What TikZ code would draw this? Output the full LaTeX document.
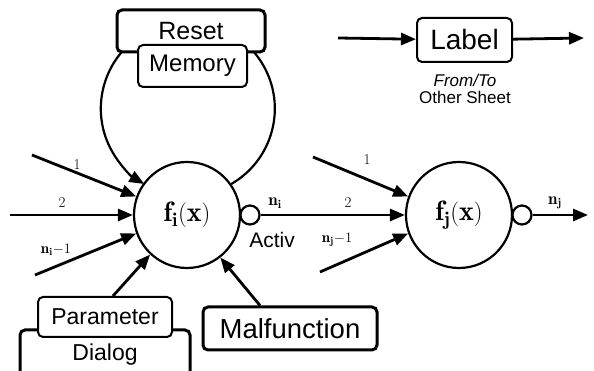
\documentclass[tikz,border=0pt]{standalone}
\usepackage{amsmath, amssymb}
\usepackage{fontspec}
\setsansfont{Liberation Sans}
\usetikzlibrary{arrows.meta}
\usetikzlibrary{shapes}

\begin{document}
\begin{tikzpicture}[x = 1pt, y = 1pt, >={Triangle[length=15pt, width=12pt]}]
	\tikzstyle{neuronStyle} = [shape = circle, minimum size = 106pt, inner sep = 0pt, draw, line width = 2.2pt, fill = white, font = \fontsize{28}{32}\selectfont]
	\tikzstyle{activStyle} = [shape = circle, minimum size = 19pt, inner sep = 0pt, draw, line width = 2.2pt, fill = white]
	\tikzstyle{boxStyle} = [shape = rectangle, rounded corners = 5pt, draw, line width = 2pt, fill = white, inner sep = 0pt, font = \sffamily\fontsize{23}{27}\selectfont]
	\tikzstyle{thickBoxStyle} = [boxStyle, line width = 3pt]
	\tikzstyle{wireStyle} = [->, line width = 2.8pt]
	\tikzstyle{numStyle} = [inner sep = 0pt, font = \fontsize{15}{18}\selectfont]
	\tikzstyle{noteStyle} = [inner sep = 0pt, font = \sffamily\fontsize{17}{20}\selectfont]
	\useasboundingbox (0,0) rectangle (594,371);
	\clip (0,0) rectangle (594,371);
	% neurons
	\node[neuronStyle] (fi) at (187,156) {$\mathbf{f_i(x)}$};
	\node[activStyle] (ai) at (250,156) {};
	\node[neuronStyle] (fj) at (459,156) {$\mathbf{f_j(x)}$};
	\node[activStyle] (aj) at (522,156) {};
	% memory loop
	\draw[->, line width = 2.2pt] (fi.35) arc[start angle = -60, end angle = 240, radius = 87];
	\node[thickBoxStyle, minimum width = 148pt, minimum height = 42pt, font = \sffamily\fontsize{25}{29}\selectfont] (reset) at (191,340) {Reset};
	\node[boxStyle, minimum width = 109pt, minimum height = 42pt, font = \sffamily\fontsize{24}{28}\selectfont] (memory) at (192.5,305) {Memory};
	% boxes below
	\node[thickBoxStyle, minimum width = 170pt, minimum height = 50pt] (dialog) at (105,16) {Dialog};
	\node[boxStyle, minimum width = 134pt, minimum height = 40pt] (param) at (105,54) {Parameter};
	\node[thickBoxStyle, minimum width = 174pt, minimum height = 43pt, font = \sffamily\fontsize{27.5}{31}\selectfont] (malf) at (290,42.5) {Malfunction};
	\node[boxStyle, minimum width = 95pt, minimum height = 44pt, font = \sffamily\fontsize{28}{32}\selectfont] (label) at (464.5,331) {Label};
	\node[noteStyle] (from) at (465,291) {\itshape From/To};
	\node[noteStyle] (sheet) at (465,274) {Other Sheet};
	\coordinate (i1) at (32,216);
	\coordinate (i2) at (10,156);
	\coordinate (i3) at (35,96);
	\coordinate (j1) at (313,214);
	\coordinate (j3) at (320,99);
	\coordinate (out) at (588,156);
	\coordinate (lin) at (338,333);
	\coordinate (lout) at (584,333);
	\draw[wireStyle] (i1) -- (fi.160);
	\draw[wireStyle] (i2) -- (fi.180);
	\draw[wireStyle] (i3) -- (fi.200);
	\draw[wireStyle] (ai) -- (fj.180);
	\draw[wireStyle] (j1) -- (fj.160);
	\draw[wireStyle] (j3) -- (fj.200);
	\draw[wireStyle] (aj) -- (out);
	\draw[wireStyle] ([xshift=8pt]param.north) -- (fi.227);
	\draw[wireStyle] ([xshift=-30pt]malf.north) -- (fi.-52);
	\draw[wireStyle] (lin) -- (label);
	\draw[wireStyle] (label) -- (lout);
	% labels
	\node[numStyle] (l1) at (77,206) {1};
	\node[numStyle] (l2) at (62,168) {2};
	\node[numStyle] (l3) at (56,121) {$\mathbf{n_i}{-}1$};
	\node[numStyle] (m1) at (367,211) {1};
	\node[numStyle] (m2) at (348,168) {2};
	\node[numStyle] (m3) at (337,131) {$\mathbf{n_j}{-}1$};
	\node[numStyle, font = \fontsize{17}{20}\selectfont] (ni) at (275,168) {$\mathbf{n_i}$};
	\node[numStyle, font = \fontsize{17}{20}\selectfont] (nj) at (555,168) {$\mathbf{n_j}$};
	\node[noteStyle, font = \sffamily\fontsize{21}{24}\selectfont] (activ) at (272,131) {Activ};
\end{tikzpicture}
\end{document}
